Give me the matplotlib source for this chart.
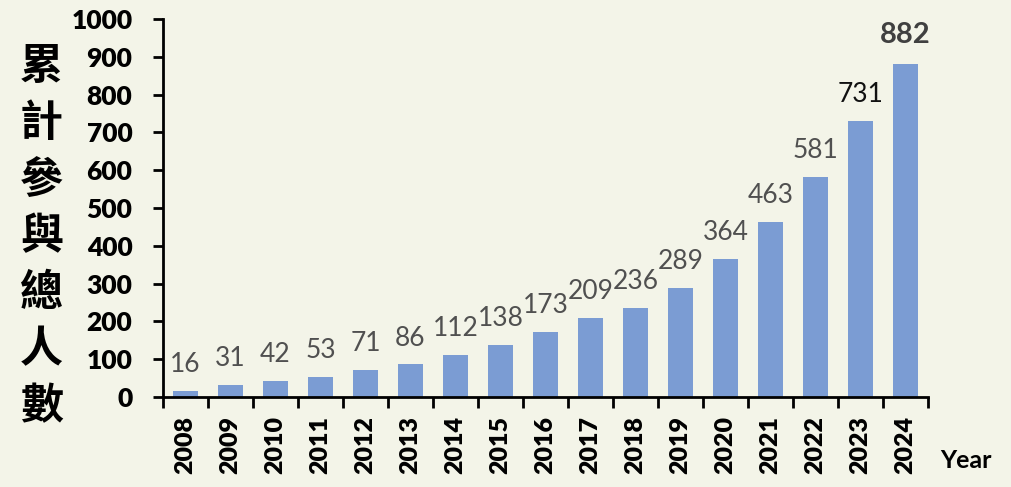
import matplotlib
matplotlib.use('Agg')
import matplotlib.pyplot as plt
import numpy as np

years = ['2008', '2009', '2010', '2011', '2012', '2013', '2014', '2015', '2016',
         '2017', '2018', '2019', '2020', '2021', '2022', '2023', '2024']
totals = [16, 31, 42, 53, 71, 86, 112, 138, 173, 209, 236, 289, 364, 463, 581, 731, 882]
ylabel_chars = ['累', '計', '參', '與', '總', '人', '數']

bg = '#f3f4e8'
num_font = ['Lato', 'DejaVu Sans']
fig = plt.figure(figsize=(10.12, 4.87), dpi=100, facecolor=bg)
ax = fig.add_axes([0.161, 0.185, 0.756, 0.776])
ax.set_facecolor(bg)

x = np.arange(len(years))
ax.bar(x, totals, width=0.56, color='#7b9cd3', zorder=2)

for i, v in enumerate(totals):
    if i == len(totals) - 1:
        ax.annotate(str(v), (i, v), xytext=(0, 11), textcoords='offset points',
                    ha='center', va='bottom', fontsize=21, fontweight='bold',
                    color='#404040', family=num_font)
    else:
        col = '#111111' if i == len(totals) - 2 else '#505050'
        ax.annotate(str(v), (i, v), xytext=(0, 10), textcoords='offset points',
                    ha='center', va='bottom', fontsize=19, color=col, family=num_font)

ax.set_xlim(-0.5, len(years) - 0.5)
ax.set_ylim(0, 1000)
ax.set_yticks(np.arange(0, 1001, 100))
ax.tick_params(axis='y', width=2, length=7, direction='out', pad=15)
ax.set_yticklabels([str(t) for t in range(0, 1001, 100)], fontsize=19,
                   fontweight='heavy', family=num_font)

ax.set_xticks(x)
ax.set_xticklabels(years, rotation=90, fontsize=18, fontweight='heavy', family=num_font)
ax.tick_params(axis='x', which='major', length=0, pad=14)
ax.set_xticks(np.arange(-0.5, len(years), 1), minor=True)
ax.tick_params(axis='x', which='minor', length=8, width=2, direction='out')

for s in ['top', 'right']:
    ax.spines[s].set_visible(False)
for s in ['left', 'bottom']:
    ax.spines[s].set_linewidth(2)

fig.text(0.041, 0.515, '\n'.join(ylabel_chars), ha='center', va='center',
         fontsize=31, fontweight='heavy', family=['Noto Sans CJK TC', 'DejaVu Sans'],
         linespacing=1.36)
fig.text(0.955, 0.055, 'Year', ha='center', va='center', fontsize=18,
         fontweight='bold', family=num_font)

fig.savefig('out.png', dpi=100, facecolor=bg)
